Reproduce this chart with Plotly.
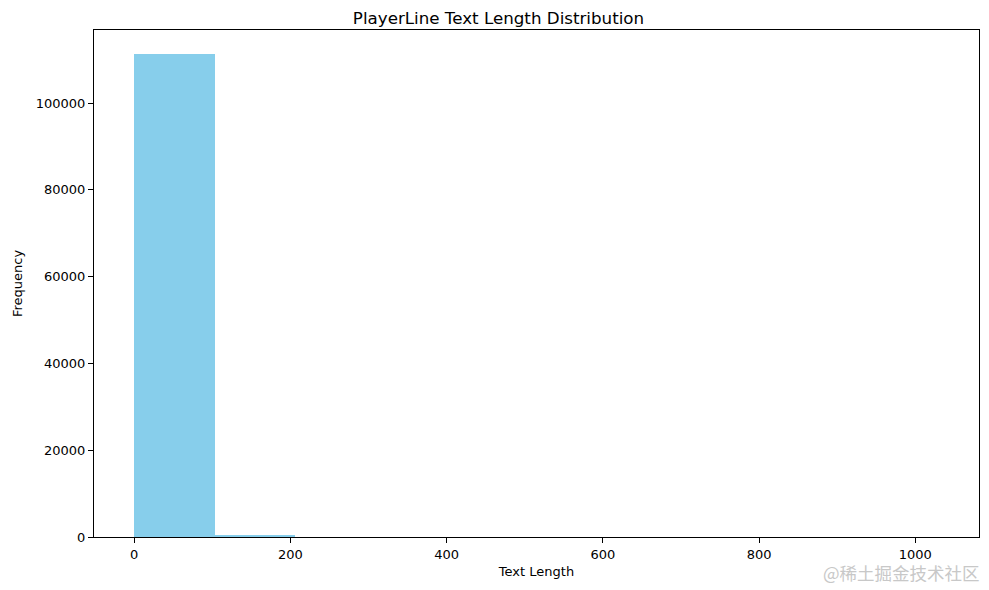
import plotly.graph_objects as go

# Histogram of PlayerLine text length (10 equal bins)
bin_edges = [0, 103, 206, 309, 412, 515, 618, 721, 824, 927, 1030]
bin_counts = [111260, 260, 0, 0, 0, 0, 0, 0, 0, 0]
x_ticks = [0, 200, 400, 600, 800, 1000]
y_ticks = [0, 20000, 40000, 60000, 80000, 100000]

SKYBLUE = "#87CEEB"
FONT = "DejaVu Sans"

centers = [(a + b) / 2 for a, b in zip(bin_edges[:-1], bin_edges[1:])]
widths = [b - a for a, b in zip(bin_edges[:-1], bin_edges[1:])]

fig = go.Figure()
fig.add_trace(go.Bar(
    x=centers, y=bin_counts, width=widths,
    marker=dict(color=SKYBLUE, line=dict(width=0)),
    hovertemplate="%{x}<br>%{y:,}<extra></extra>",
))

span = bin_edges[-1] - bin_edges[0]
ymax = max(bin_counts)

axis_common = dict(
    showline=True, linecolor="black", linewidth=1, mirror=True,
    ticks="outside", ticklen=5, tickwidth=1, tickcolor="black",
    showgrid=False, zeroline=False,
    tickfont=dict(family=FONT, size=13, color="black"),
)

# page body has an 8px margin, so the figure is sized/offset to land
# where the reference axes sit in the 989x590 window
fig.update_layout(
    width=981, height=582,
    paper_bgcolor="white", plot_bgcolor="white",
    font=dict(family=FONT, color="black"),
    margin=dict(l=85, r=9, t=22, b=53),
    showlegend=False,
    bargap=0,
    title=dict(text="PlayerLine Text Length Distribution",
               font=dict(family=FONT, size=16.7, color="black"),
               x=0.5, xanchor="center", y=1 - 10.5 / 582, yanchor="middle"),
    xaxis=dict(axis_common,
               range=[bin_edges[0] - 0.05 * span, bin_edges[-1] + 0.05 * span],
               tickvals=x_ticks, ticktext=[str(v) for v in x_ticks],
               title=dict(text="Text Length", standoff=6,
                          font=dict(family=FONT, size=13, color="black"))),
    yaxis=dict(axis_common,
               range=[0, ymax * 1.05],
               tickvals=y_ticks, ticktext=[str(v) for v in y_ticks],
               title=dict(text="Frequency", standoff=10,
                          font=dict(family=FONT, size=13, color="black"))),
)

# site watermark in the lower right corner
fig.add_annotation(
    text="@稀土掘金技术社区", xref="paper", yref="paper",
    x=1.0034, y=-0.071, xanchor="right", yanchor="middle", showarrow=False,
    font=dict(family="Noto Sans CJK SC", size=17.5, color="#c8c8c8"),
)

fig.write_html("out.html")
